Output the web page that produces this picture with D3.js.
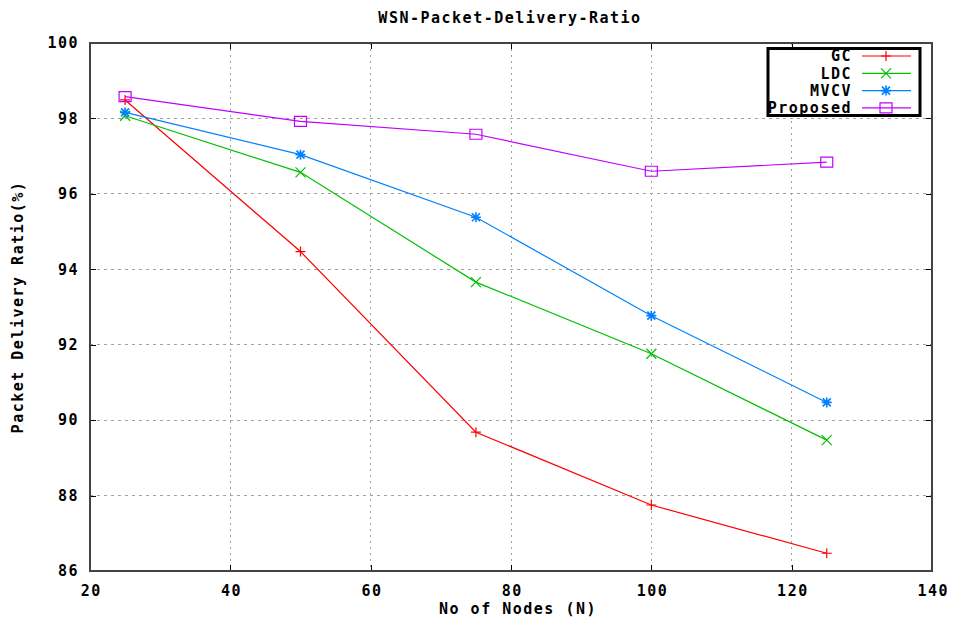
<!DOCTYPE html>
<html><head><meta charset="utf-8">
<script src="https://cdn.jsdelivr.net/npm/d3@7"></script>
<style>body{margin:0;background:#fff}text{font-family:"DejaVu Sans Mono",monospace;font-weight:bold;font-size:15px;letter-spacing:1.5px;fill:#000}</style>
</head><body><svg id="c" width="954" height="620"></svg>
<script>
const nodes = [25, 50, 75, 100, 125];
const gc = [98.49, 94.47, 89.68, 87.75, 86.47];
const ldc = [98.07, 96.57, 93.66, 91.76, 89.47];
const mvcv = [98.16, 97.04, 95.38, 92.77, 90.47];
const proposed = [98.58, 97.92, 97.58, 96.6, 96.84];
const xTicks = [20, 40, 60, 80, 100, 120, 140];
const yTicks = [86, 88, 90, 92, 94, 96, 98, 100];
const seriesNames = ["GC", "LDC", "MVCV", "Proposed"];
const seriesColors = ["#ff0000", "#00c000", "#0080ff", "#c000ff"];
const seriesMarks = ["plus", "cross", "star", "square"];
const seriesVals = [gc, ldc, mvcv, proposed];

const svg = d3.select("#c");
const L = 90, R = 932, T = 43, B = 571;
const x = d3.scaleLinear().domain([20, 140]).range([L, R]);
const y = d3.scaleLinear().domain([86, 100]).range([B, T]);

// grid
const g = svg.append("g");
g.selectAll(".gx").data(xTicks.slice(1, -1)).join("line")
  .attr("x1", d => x(d)).attr("x2", d => x(d)).attr("y1", T).attr("y2", B)
  .attr("stroke", "#a0a0a0").attr("stroke-dasharray", "2,4").attr("shape-rendering", "crispEdges");
g.selectAll(".gy").data(yTicks.slice(1, -1)).join("line")
  .attr("x1", L).attr("x2", R).attr("y1", d => y(d)).attr("y2", d => y(d))
  .attr("stroke", "#a0a0a0").attr("stroke-dasharray", "3,4").attr("shape-rendering", "crispEdges");

// axes via d3 axis
const xa = svg.append("g").attr("transform", `translate(0,${B})`)
  .call(d3.axisBottom(x).tickValues(xTicks).tickSize(-6).tickPadding(14).tickFormat(d3.format("d")));
const xt = svg.append("g").attr("transform", `translate(0,${T})`)
  .call(d3.axisTop(x).tickValues(xTicks).tickSize(-6).tickFormat(""));
const ya = svg.append("g").attr("transform", `translate(${L},0)`)
  .call(d3.axisLeft(y).tickValues(yTicks).tickSize(-6).tickPadding(11).tickFormat(d3.format("d")));
const yr = svg.append("g").attr("transform", `translate(${R},0)`)
  .call(d3.axisRight(y).tickValues(yTicks).tickSize(-6).tickFormat(""));
[xa, xt, ya, yr].forEach(a => {
  a.selectAll(".domain").remove();
  a.selectAll("line").attr("stroke", "#000").attr("shape-rendering", "crispEdges");
  a.selectAll("text").attr("font-family", "DejaVu Sans Mono").attr("font-size", 15).attr("font-weight", "bold").attr("fill", "#000");
});
xa.selectAll("text").attr("dx", "0.75");
svg.append("rect").attr("x", L).attr("y", T).attr("width", R - L).attr("height", B - T)
  .attr("fill", "none").attr("stroke", "#444").attr("stroke-width", 1.5).attr("shape-rendering", "crispEdges");

// titles
svg.append("text").attr("x", 510).attr("y", 23).attr("text-anchor", "middle").text("WSN-Packet-Delivery-Ratio");
svg.append("text").attr("x", 518).attr("y", 614).attr("text-anchor", "middle").text("No of Nodes (N)");
svg.append("text").attr("transform", `translate(23,${(T + B) / 2}) rotate(-90)`).attr("text-anchor", "middle").text("Packet Delivery Ratio(%)");

function marker(sel, type, cx, cy, color) {
  const s = 5;
  const p = sel.append("path").attr("fill", "none").attr("stroke", color).attr("stroke-width", 1.2);
  let d = "";
  if (type === "plus") d = `M${cx - s},${cy}H${cx + s}M${cx},${cy - s}V${cy + s}`;
  else if (type === "cross") d = `M${cx - s},${cy - s}L${cx + s},${cy + s}M${cx - s},${cy + s}L${cx + s},${cy - s}`;
  else if (type === "star") d = `M${cx - s},${cy}H${cx + s}M${cx},${cy - s}V${cy + s}M${cx - 4},${cy - 4}L${cx + 4},${cy + 4}M${cx - 4},${cy + 4}L${cx + 4},${cy - 4}`;
  else d = `M${cx - 6},${cy - 5}H${cx + 6}V${cy + 5}H${cx - 6}Z`;
  p.attr("d", d);
  if (type === "star") p.attr("stroke-width", 1.6);
}

const line = d3.line().x(d => x(d[0])).y(d => y(d[1]));
seriesVals.forEach((vals, i) => {
  const pts = nodes.map((n, j) => [n, vals[j]]);
  svg.append("path").datum(pts).attr("d", line).attr("fill", "none").attr("stroke", seriesColors[i]).attr("stroke-width", 1.2);
  const mg = svg.append("g");
  pts.forEach(p => marker(mg, seriesMarks[i], x(p[0]), y(p[1]), seriesColors[i]));
});

// legend
const lg = svg.append("g");
lg.append("rect").attr("x", 768).attr("y", 48.5).attr("width", 152).attr("height", 67)
  .attr("fill", "#fff").attr("stroke", "#000").attr("stroke-width", 3);
seriesNames.forEach((nm, i) => {
  const yy = 56 + i * 17.3;
  lg.append("text").attr("x", 852).attr("y", yy).attr("dy", "0.36em").attr("text-anchor", "end").text(nm);
  lg.append("line").attr("x1", 862).attr("x2", 911).attr("y1", yy).attr("y2", yy).attr("stroke", seriesColors[i]).attr("stroke-width", 1.2);
  marker(lg, seriesMarks[i], 886, yy, seriesColors[i]);
});
</script></body></html>
